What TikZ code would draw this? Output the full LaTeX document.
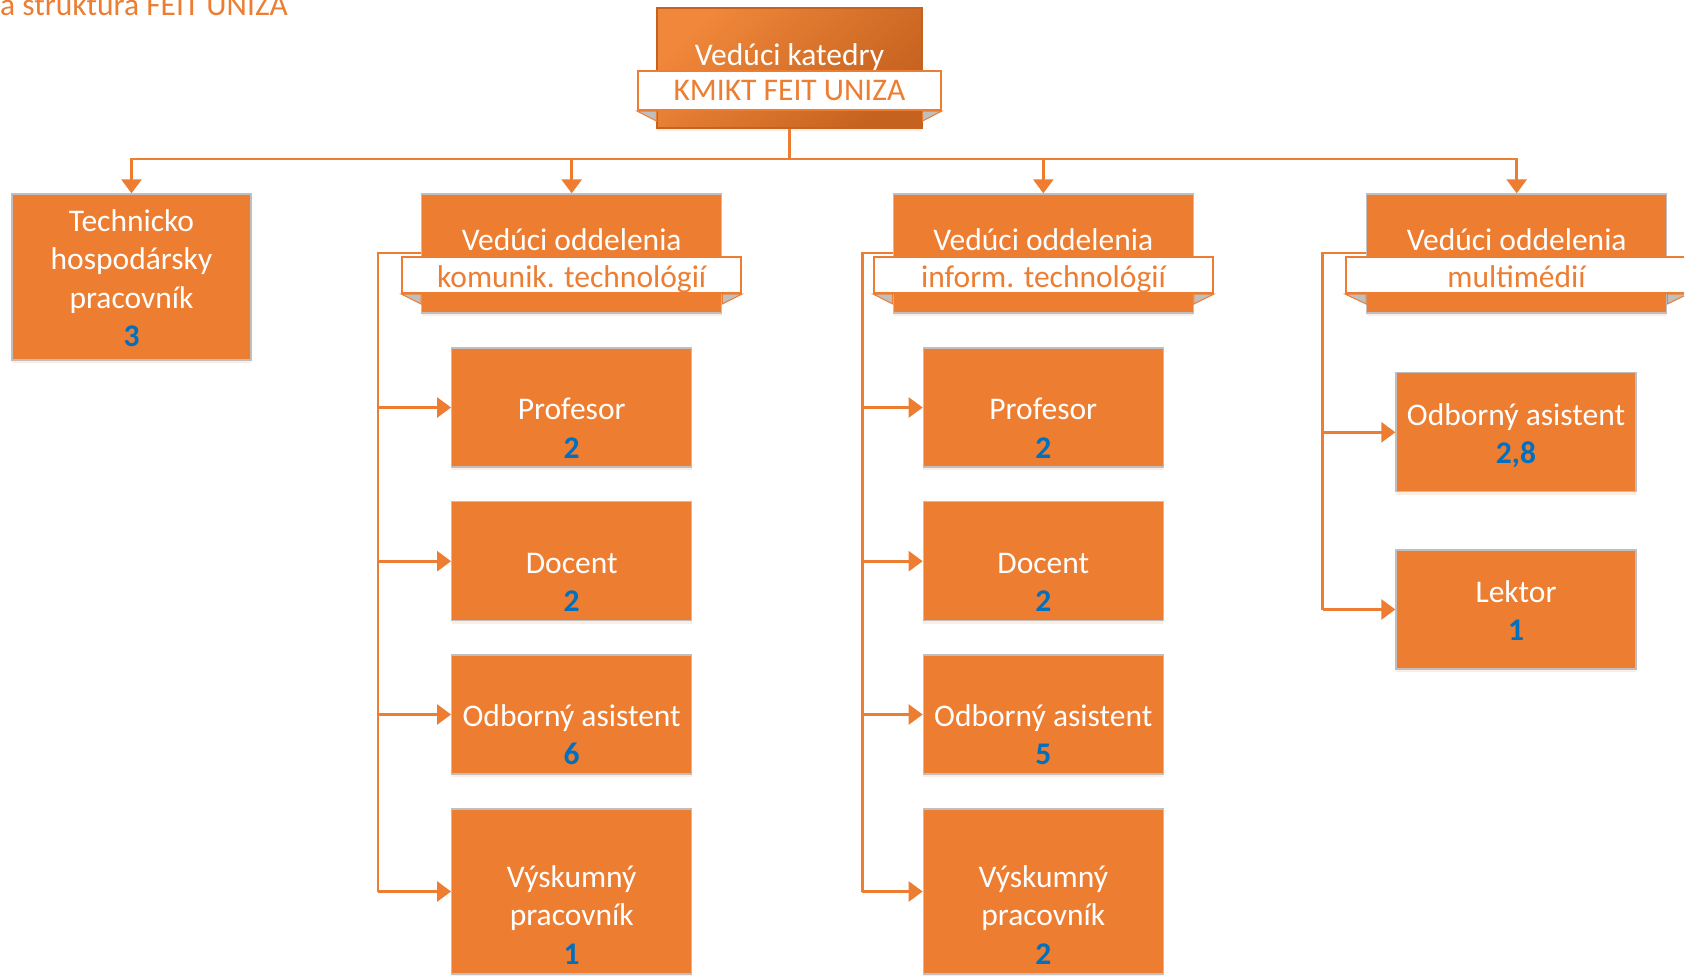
\documentclass[tikz,border=0pt]{standalone}
\usepackage{fontspec}
\setmainfont{Carlito}
\usetikzlibrary{arrows.meta,shadows}

\newcommand\cnt[1]{\textcolor{numblue}{\textbf{#1}}}
\newcommand\topstrut{\rule{0pt}{35.5pt}}
\newcommand\gapline{\rule{0pt}{24pt}\\}

\begin{document}
\begin{tikzpicture}[x=1pt,y=-1pt,
    txt/.style={font=\fontsize{31.5}{38.5}\selectfont},
    staff/.style={txt, draw=boxgray, line width=1.3pt, fill=orgorange, text=white,
        minimum width=240pt, minimum height=119pt, inner sep=0pt,
        general shadow={fill=orgorange!45, opacity=.3, shadow yshift=-3pt}},
    chief/.style={staff, minimum width=300pt},
    band/.style={txt, draw=orgorange, line width=2pt, fill=white, text=orgorange,
        minimum height=36pt, inner sep=0pt, text height=24pt, text depth=0pt},
    fold/.style={fill=boxgray, draw=orgorange, line width=1pt},
    link/.style={draw=orgorange, line width=2.6pt},
    arr/.style={link, -{Triangle[width=20pt,length=14pt]}}]

    % Colors
    \definecolor{orgorange}{HTML}{ED7D31}
    \definecolor{boxgray}{HTML}{BFBFBF}
    \definecolor{numblue}{HTML}{0070C0}
    \definecolor{headlight}{HTML}{F0873A}
    \definecolor{headdark}{HTML}{C5621F}

    \useasboundingbox (0,0) rectangle (1684,975);
    \fill[white] (0,0) rectangle (1684,975);

    % Title (cut by the page edge)
    \node[txt, anchor=base west, inner sep=0pt, text=orgorange]
        (title) at (0,15.5) {a struktura FEIT UNIZA};

    % Head of department
    \node[chief, minimum width=265pt, minimum height=120pt, draw=headdark,
        left color=headlight, right color=headdark, shading angle=45]
        (head) at (789.5,68) {\parbox{255pt}{\centering
            \topstrut Vedúci katedry\\[-9pt]\strut}};
    \node[band, minimum width=303pt, minimum height=39pt, text height=20pt]
        (hband) at (789.4,90.5) {KMIKT FEIT UNIZA};

    % Technical staff
    \node[staff, minimum width=239pt, minimum height=166pt] (tech) at (131.5,277)
        {\parbox{230pt}{\centering
            \topstrut Technicko\\hospodársky\\pracovník\\\cnt{3}\strut}};

    % Department heads
    \node[chief] (kmgr) at (571.7,253.5) {\parbox{290pt}{\centering
        \topstrut Vedúci oddelenia\\[-8pt]\strut}};
    \node[band, minimum width=339pt] (kband) at (571.7,275) {komunik. technológií};
    \node[chief] (imgr) at (1043.3,253.5) {\parbox{290pt}{\centering
        \topstrut Vedúci oddelenia\\[-8pt]\strut}};
    \node[band, minimum width=339pt] (iband) at (1043.5,275) {inform. technológií};
    \node[chief] (mmgr) at (1516.7,253.5) {\parbox{290pt}{\centering
        \topstrut Vedúci oddelenia\\[-8pt]\strut}};
    \node[band, minimum width=341pt] (mband) at (1516.5,275) {multimédií};

    % Ribbon folds
    \foreach \m/\b in {head/hband,kmgr/kband,imgr/iband,mmgr/mband}{
        \filldraw[fold] (\b.south west) -- (\m.west |- \b.south)
            -- ([yshift=-10pt]\m.west |- \b.south) -- cycle;
        \filldraw[fold] (\b.south east) -- (\m.east |- \b.south)
            -- ([yshift=-10pt]\m.east |- \b.south) -- cycle;
    }
    \node[band, minimum width=303pt, minimum height=39pt, text height=20pt]
        at (hband) {KMIKT FEIT UNIZA};
    \node[band, minimum width=339pt] at (kband) {komunik. technológií};
    \node[band, minimum width=339pt] at (iband) {inform. technológií};
    \node[band, minimum width=341pt] at (mband) {multimédií};

    % Communication technologies
    \node[staff] (kprof) at (571.7,407.5) {\parbox{230pt}{\centering
        \gapline Profesor\\\cnt{2}}};
    \node[staff] (kdoc) at (571.7,561.2) {\parbox{230pt}{\centering
        \gapline Docent\\\cnt{2}}};
    \node[staff] (kodb) at (571.7,714.5) {\parbox{230pt}{\centering
        \gapline Odborný asistent\\\cnt{6}}};
    \node[staff, minimum height=165pt] (kvysk) at (571.7,891.5) {\parbox{230pt}{\centering
        \rule{0pt}{24pt}\\[6pt]Výskumný\\pracovník\\\cnt{1}}};

    % Information technologies
    \node[staff] (iprof) at (1043.3,407.5) {\parbox{230pt}{\centering
        \gapline Profesor\\\cnt{2}}};
    \node[staff] (idoc) at (1043.3,561.2) {\parbox{230pt}{\centering
        \gapline Docent\\\cnt{2}}};
    \node[staff] (iodb) at (1043.3,714.5) {\parbox{230pt}{\centering
        \gapline Odborný asistent\\\cnt{5}}};
    \node[staff, minimum height=165pt] (ivysk) at (1043.3,891.5) {\parbox{230pt}{\centering
        \rule{0pt}{24pt}\\[6pt]Výskumný\\pracovník\\\cnt{2}}};

    % Multimedia
    \node[staff] (modb) at (1516,432.3) {\parbox{230pt}{\centering
        \topstrut Odborný asistent\\\cnt{2,8}\strut}};
    \node[staff] (mlekt) at (1516,609.5) {\parbox{230pt}{\centering
        \topstrut Lektor\\\cnt{1}\strut}};

    % Main bus
    \coordinate (bus) at (0,159);
    \foreach \n in {tech,kmgr,imgr,mmgr}
        \draw[arr] (head.south) -- (head.south |- bus) -| (\n.north);

    % Department buses
    \coordinate (kbus) at (378,253);
    \coordinate (ibus) at (862.4,253);
    \coordinate (mbus) at (1322.7,253);
    \draw[link] (kmgr.west |- kbus) -- (kbus) -- (kbus |- kvysk.west);
    \draw[link] (imgr.west |- ibus) -- (ibus) -- (ibus |- ivysk.west);
    \draw[link] (mmgr.west |- mbus) -- (mbus) -- (mbus |- mlekt.west);
    \foreach \n in {kprof,kdoc,kodb,kvysk}
        \draw[arr] (kbus |- \n.west) -- (\n.west);
    \foreach \n in {iprof,idoc,iodb,ivysk}
        \draw[arr] (ibus |- \n.west) -- (\n.west);
    \foreach \n in {modb,mlekt}
        \draw[arr] (mbus |- \n.west) -- (\n.west);

\end{tikzpicture}
\end{document}
